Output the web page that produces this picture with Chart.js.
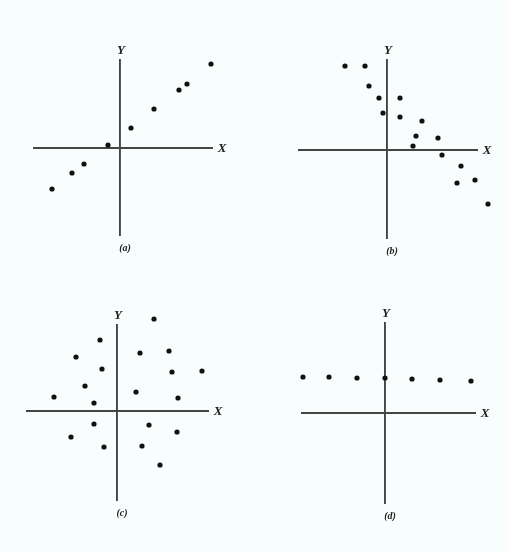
<!DOCTYPE html>
<html>
<head>
<meta charset="utf-8">
<script src="https://cdn.jsdelivr.net/npm/chart.js@4/dist/chart.umd.min.js"></script>
<style>
  body { margin: 0; background: #f8fefd; }
  #page { position: relative; width: 508px; height: 552px; overflow: hidden; }
  .panel { position: absolute; }
</style>
</head>
<body>
<div id="page"></div>
<script>
// panel (a) - strong positive
const aX = [-6.8, -4.8, -3.6, -1.2, 1.1, 3.4, 5.9, 6.7, 9.1];
const aY = [-4.1, -2.5, -1.6, 0.3, 2.0, 3.9, 5.8, 6.4, 8.4];

// panel (b) - negative
const bX = [-4.2, -2.2, -1.8, -0.8, 1.3, -0.4, 1.3, 3.5, 2.9, 5.1, 2.6, 5.5, 7.4, 7.0, 8.8, 10.1];
const bY = [8.4, 8.4, 6.4, 5.2, 5.2, 3.7, 3.3, 2.9, 1.4, 1.2, 0.4, -0.5, -1.6, -3.3, -3.0, -5.4];

// panel (c) - no correlation
const cX = [3.7, -1.7, -4.1, 2.3, 5.2, -1.5, 5.5, 8.5, -3.2, 1.9, -6.3, 6.1, -2.3, -2.3, 3.2, -4.6, 6.0, -1.3, 2.5, 4.3];
const cY = [9.2, 7.1, 5.4, 5.8, 6.0, 4.2, 3.9, 4.0, 2.5, 1.9, 1.4, 1.3, 0.8, -1.3, -1.4, -2.6, -2.1, -3.6, -3.5, -5.4];

// panel (d) - flat
const dX = [-8.2, -5.6, -2.8, 0, 2.7, 5.5, 8.6];
const dY = [3.6, 3.6, 3.5, 3.5, 3.4, 3.3, 3.2];

const captions = ['(a)', '(b)', '(c)', '(d)'];

// axis ranges for each panel [xmin, xmax, ymin, ymax]
const ranges = [
  [-8.6, 9.2, -8.7, 8.8],
  [-8.8, 9.0, -8.8, 9.0],
  [-9.0, 9.1, -8.9, 8.6],
  [-8.3, 9.0, -9.0, 9.0]
];

const PAD = 30;
const axisColor = '#454545';

// chart area boxes on the page: left, top, width, height
const boxes = [
  [34, 60, 178, 175],
  [299, 60, 178, 178],
  [27, 325, 181, 175],
  [302, 323, 173, 180]
];

// draws the Y / X letters and the caption next to the axes
const labelPlugin = {
  id: 'axisLabels',
  afterDraw(chart, args, opts) {
    const ctx = chart.ctx;
    const xs = chart.scales.x, ys = chart.scales.y;
    const ox = xs.getPixelForValue(0);
    const oy = ys.getPixelForValue(0);
    const area = chart.chartArea;
    ctx.save();
    ctx.fillStyle = '#222';
    ctx.textAlign = 'center';
    ctx.textBaseline = 'middle';
    ctx.font = 'italic bold 13px "Liberation Serif", serif';
    ctx.fillText('Y', ox + 1, area.top - 9);
    ctx.fillText('X', area.right + 10, oy + 1);
    ctx.font = 'italic bold 10px "Liberation Serif", serif';
    ctx.fillText(opts.caption, ox + 5, area.bottom + 13);
    ctx.restore();
  }
};

function makePanel(i, xs, ys) {
  const [left, top, w, h] = boxes[i];
  const div = document.createElement('div');
  div.className = 'panel';
  div.style.left = (left - PAD) + 'px';
  div.style.top = (top - PAD) + 'px';
  const canvas = document.createElement('canvas');
  canvas.width = w + PAD * 2;
  canvas.height = h + PAD * 2;
  div.appendChild(canvas);
  document.getElementById('page').appendChild(div);

  const r = ranges[i];
  new Chart(canvas, {
    type: 'scatter',
    data: {
      datasets: [{
        data: xs.map((x, k) => ({ x: x, y: ys[k] })),
        backgroundColor: '#111',
        borderWidth: 0,
        pointRadius: 2.6,
        // a few dots sit just past the axis ends; the larger hover
        // radius keeps them from being culled at the chart area edge
        hoverRadius: 14,
        clip: false
      }]
    },
    options: {
      responsive: false,
      animation: false,
      events: [],
      layout: { padding: PAD },
      plugins: {
        legend: { display: false },
        tooltip: { enabled: false },
        axisLabels: { caption: captions[i] }
      },
      scales: {
        x: {
          type: 'linear', min: r[0], max: r[1],
          position: { y: 0 },
          ticks: { display: false },
          grid: { display: false },
          border: { color: axisColor, width: 1.9 }
        },
        y: {
          type: 'linear', min: r[2], max: r[3],
          position: { x: 0 },
          ticks: { display: false },
          grid: { display: false },
          border: { color: axisColor, width: 1.9 }
        }
      }
    },
    plugins: [labelPlugin]
  });
}

makePanel(0, aX, aY);
makePanel(1, bX, bY);
makePanel(2, cX, cY);
makePanel(3, dX, dY);
</script>
</body>
</html>
